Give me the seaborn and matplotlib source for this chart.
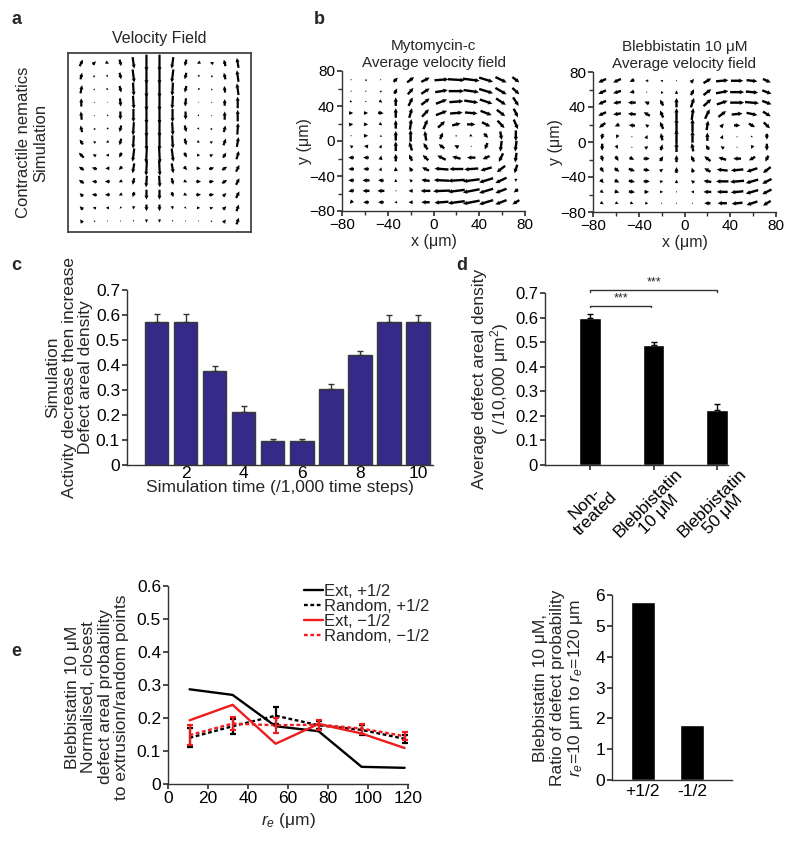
import numpy as np
import matplotlib
matplotlib.use("Agg")
import matplotlib.pyplot as plt
import seaborn as sns
import pandas as pd

# ---------------- data ----------------
# panel a : simulated velocity field (13 x 13 grid), 10 = one grid spacing
a_x = list(range(13))
a_y = list(range(12, -1, -1))
a_u = [
    [2, 2, 2, 1, 1, 0, 0, -1, -1, -2, -2, -1, -1],
    [1, 1, 1, 1, 1, 0, 0, -1, -1, -1, -1, -1, -1],
    [1, .5, 1, 1, .5, 0, 0, -.5, -1, -1, -.5, -.5, -1],
    [0, 0, .5, .5, .5, 0, 0, -.5, -.5, -.5, 0, 0, 0],
    [-.5, 0, -.5, 0, 0, 0, 0, 0, 0, .5, 0, 0, 0],
    [-1, -1, -1, -1, -.5, 0, 0, .5, 1, 1, 1, 1, .5],
    [-2, -1.5, -1.5, -1, -.5, 0, 0, .5, 1, 1.5, 1.5, 1.5, 1],
    [-3, -2, -2, -1.5, -1, -.5, .5, 1, 1.5, 2, 2, 2, 1.5],
    [-3, -3, -2.5, -2, -1, -.5, .5, 1, 2, 2.5, 3, 3, 2],
    [-3, -3, -3, -2, -1, -.5, .5, 1, 2, 3, 3, 3, 2],
    [-2, -3, -3, -2, -1, 0, 0, 1, 2, 3, 3, 2, 2],
    [-2, -2, -2, -1, -.5, 0, 0, .5, 1, 2, 2, 2, 1.5],
    [-1.5, -1, -.5, 0, 0, 0, 0, 0, 0, .5, 1, 1.5, 1.5],
]
a_v = [
    [4, 2, -1, -4, -7, -10, -10, -7, -4, -1, 1, 4, 6],
    [4, 1, -1, -4, -8, -10, -10, -8, -4, -1, 1, 4, 7],
    [5, 1, -1, -4, -8, -10, -10, -8, -4, -1, 1, 4, 7],
    [5, .5, -.5, -5, -8, -10, -10, -8, -5, -.5, .5, 4, 7],
    [5, .3, -1, -5, -8, -10, -10, -8, -5, -1, .3, 5, 7],
    [4, 1, -1, -4, -8, -10, -10, -8, -4, -1, 1, 4, 7],
    [3, 1, -1, -4, -8, -10, -10, -8, -4, -1, 1, 4, 6],
    [3, 1, 0, -3, -8, -10, -10, -8, -3, 0, 1, 3, 5],
    [2, 1, 0, -2, -6, -9, -9, -6, -2, 0, 1, 2, 4],
    [2, .5, 0, -1, -4, -7, -7, -4, -1, 0, .5, 2, 4],
    [2, .5, 0, -1, -3, -6, -6, -3, -1, 0, .5, 2, 4],
    [2, .5, 0, -1, -2, -4, -4, -2, -1, 0, .5, 2, 4],
    [2, .5, 0, 0, -1, -2, -2, -1, 0, 0, .5, 2, 4],
]

# panel b : measured average velocity fields (grid in um)
b_x = [-72, -59, -46, -33, -20, -7, 7, 20, 33, 46, 59, 72]
b_y = [70, 57, 45, 32, 19, 6, -6, -19, -32, -45, -57, -70]
mito_u = [
    [.3, 0, .5, 1.5, 2.5, 3, 5, 6, 6, 5, 4, 2.5],
    [.3, .5, .3, 1, 2, 3, 4.5, 5.5, 5.5, 5, 4, 2.5],
    [.8, .5, 1, 0, 1.5, 3, 4, 5, 5, 4.5, 3.5, 2],
    [1.5, 1.5, 2, 0, 1, 2.5, 4, 4.5, 4.5, 4, 3, 1.5],
    [1.5, 1.5, 1, 0, .5, 1.5, 2.5, 3, 3, 3, 2.5, 1.5],
    [0, 1.5, 0, 0, 0, -.5, 1, .5, 1, 1.5, .5, 0],
    [-1, -1.5, .5, 0, -1, -1.5, -2, -1.5, 0, -1, -.5, -.5],
    [-2, -2, .3, 0, -1, -2, -3, -3, -3, -2.5, -1.5, -.5],
    [-2, -2, .5, 0, -1, -2.5, -5, -5, -5, -4, -3, -1],
    [-2, -2.5, -2, 0, -1, -3, -5.5, -6, -6, -5, -4, 0],
    [-2, -2.5, -2.5, -.5, -1.5, -3.5, -6, -6, -6, -5, -4, -1.5],
    [-1, -2, -2, -1, -1.5, -3, -5, -6, -6, -5, -4, -2.5],
]
mito_v = [
    [0, 1, 0, 2, 2.5, 2, .5, -.5, -1, -2, -2.5, -2.5],
    [0, .3, 1, 2.5, 3, 2.5, 1, 0, -1, -2, -3, -3],
    [-.5, -.3, -1, 4, 4, 3, 2, .5, -1, -2, -3, -4],
    [0, 0, -.3, 4.5, 4.5, 3.5, 2, .5, -.5, -2, -3, -4],
    [.3, 0, -1, 4, 5, 4.5, 3, 1, 0, -2, -3.5, -4.5],
    [.5, 0, 1, 4.5, 5.5, 4.5, 3, .5, -.5, -2, -4, -5],
    [1, .3, 1.5, 4.5, 4, 3, 2, 1, 0, -3, -5, -5],
    [0, 0, 2, 3.5, 3, 2.5, 2, 1, 0, -1.5, -4, -4.5],
    [0, 0, 1.5, 2, 2, 1.5, .5, 0, -.5, -1.5, -3, -4],
    [0, 0, .3, 1.5, 1, .5, .3, -.5, -1, -2, -2.5, -1.5],
    [-.5, 0, 0, 0, 0, 0, -.3, -1, -1.5, -2, -2, -1.5],
    [-1.5, 0, 0, 0, 0, 0, -.5, -1, -1.5, -2, -2, -2],
]
blebb_u = [
    [-2.5, -2.5, -1.5, -1, -.8, 0, 1, 2.5, 4, 4, 3.5, 2.5],
    [-2.5, -2.5, -1.5, -.3, -.5, 0, 1, 2.5, 4, 4.5, 4, 3],
    [-2.5, -2.5, -2.5, -1.5, -1, 0, 1, 2.5, 3.5, 4.5, 4.5, 3],
    [-2.5, -2.5, -2.5, -2, -1, 0, .5, 1.5, 2.5, 3.5, 3.5, 2.5],
    [-2, -1.5, -2, -1, -1, 0, 0, .5, 1, 2, 2, 2],
    [-.3, -.5, 0, .5, -.5, 0, 0, 0, .5, 0, .5, 0],
    [0, .5, 0, 1, .5, 0, -.5, -1, -1, 0, -.5, 0],
    [.5, 1, 1.5, 2, 1, 0, -1, -2, -2.5, -2.5, -2, -1],
    [1, 1.5, 2, 2, 1, 0, -.5, -2, -3.5, -4, -3.5, -2.5],
    [1, 1.5, 2, 2, 1, 0, -1, -2.5, -4, -4.5, -4, -3],
    [1, 1.5, 2, 1.5, 1, 0, -1, -2.5, -3.5, -4, -4, -3],
    [1, 1, 1, 1, 0, 0, 0, -2, -3, -3.5, -3.5, -2.5],
]
blebb_v = [
    [-1.5, -1.5, -1, 0, .3, .5, 1.5, 2, .5, 0, -.5, -1.5],
    [-1.5, -1, -.5, 0, 1, 1.5, 2.5, 2.5, 1, 0, -.5, -1.5],
    [-1.5, -.5, 0, .8, 2.5, 4, 4, 3, 1.5, 0, -.5, -1.5],
    [-1.5, -.5, .3, 1.5, 3, 5, 5, 4, 2.5, .5, -1, -2],
    [-2, -.8, .3, 1, 3, 6, 5.5, 4, 1.5, 0, -1.5, -2.5],
    [-2.5, -1.5, 0, 1.5, 3, 6, 5, 3.5, 1.5, 0, -.5, -2.5],
    [-3, -1.5, 0, 1, 2.5, 4, 3.5, 2, 1, 0, -1.5, -3],
    [-2.5, -2, -1, 0, 2, 3, 2.5, 2, 1, 0, -1.5, -2.5],
    [-2, -1.5, -1, -.3, 1, 2.5, 2, 1.5, .5, -.5, -1.5, -2.5],
    [-1.5, -1, -.5, 0, .5, 1.5, 1, .5, 0, -.5, -1.5, -2],
    [-1, -.5, -.3, 0, 0, .5, 0, 0, 0, -.5, -1.5, -2],
    [-.8, -.5, -.5, 0, 0, .5, 0, 0, 0, -.5, -1.5, -2],
]

# panel c
c_time = [1, 2, 3, 4, 5, 6, 7, 8, 9, 10]
c_density = [0.57, 0.57, 0.377, 0.21, 0.097, 0.097, 0.303, 0.441, 0.57, 0.57]
c_err = [0.035, 0.035, 0.018, 0.025, 0.006, 0.006, 0.022, 0.015, 0.028, 0.028]

# panel d
d_groups = ["Non-\ntreated", "Blebbistatin\n10 \u03bcM", "Blebbistatin\n50 \u03bcM"]
d_density = [0.600, 0.487, 0.222]
d_err = [0.015, 0.013, 0.025]

# panel e (left)
e_r = [10.8, 32.3, 53.8, 75.3, 96.8, 118.3]
e_ext_plus = [0.287, 0.270, 0.175, 0.160, 0.052, 0.049]
e_rand_plus = [0.140, 0.175, 0.207, 0.178, 0.164, 0.137]
e_rand_plus_err = [0.029, 0.022, 0.026, 0.012, 0.015, 0.012]
e_ext_minus = [0.193, 0.240, 0.122, 0.182, 0.153, 0.109]
e_rand_minus = [0.148, 0.183, 0.178, 0.180, 0.168, 0.145]
e_rand_minus_err = [0.030, 0.020, 0.022, 0.015, 0.015, 0.013]

# panel e (right)
e_defects = ["+1/2", "-1/2"]
e_ratio = [5.77, 1.77]

# ---------------- figure ----------------
sns.set_theme(style="ticks")
plt.rcParams["font.family"] = ["Liberation Sans", "DejaVu Sans"]
plt.rcParams["mathtext.fontset"] = "custom"
plt.rcParams["mathtext.rm"] = "Liberation Sans"
plt.rcParams["mathtext.it"] = "Liberation Sans:italic"
plt.rcParams["axes.edgecolor"] = "#333333"
plt.rcParams["axes.linewidth"] = 1.0
plt.rcParams["xtick.color"] = "#333333"
plt.rcParams["ytick.color"] = "#333333"
plt.rcParams["xtick.labelcolor"] = "black"
plt.rcParams["ytick.labelcolor"] = "black"
plt.rcParams["xtick.major.size"] = 3.5
plt.rcParams["ytick.major.size"] = 3.5
plt.rcParams["xtick.major.pad"] = 1.5
plt.rcParams["ytick.major.pad"] = 1.5

W, H = 800, 842
fig = plt.figure(figsize=(W / 100, H / 100), dpi=100)
fig.patch.set_facecolor("white")


def px_axes(x0, y0, x1, y1):
    return fig.add_axes([x0 / W, 1 - y1 / H, (x1 - x0) / W, (y1 - y0) / H])


def letter(x, y, s):
    fig.text(x / W, 1 - y / H, s, fontsize=13, fontweight="bold", ha="left", va="center")


quiver_style = dict(pivot="mid", angles="xy", scale_units="xy", color="black",
                    headwidth=1.9, headlength=1.9, headaxislength=1.7, minlength=0.5)

# ---- panel a ----
ax_a = px_axes(68, 53, 251, 232)
AX, AY = np.meshgrid(a_x, a_y)
ax_a.quiver(AX, AY, np.array(a_u), np.array(a_v), scale=8, width=0.012, **quiver_style)
ax_a.set_xlim(-1.02, 13.02)
ax_a.set_ylim(-0.83, 12.75)
ax_a.set_xticks([])
ax_a.set_yticks([])
for s in ax_a.spines.values():
    s.set_linewidth(1.3)
    s.set_color("#444444")
ax_a.set_title("Velocity Field", fontsize=11.5, pad=7)
ax_a.set_ylabel("Contractile nematics\nSimulation", fontsize=12, linespacing=1.15)
ax_a.yaxis.set_label_coords(-0.11, 0.5)
letter(11, 20, "a")

# ---- panel b ----
major = [-80, -40, 0, 40, 80]
major_lbl = ["\u221280", "\u221240", "0", "40", "80"]
minor = [-60, -20, 20, 60]


def vel_panel(x0, x1, y0, y1, U, V, title, scale):
    ax = px_axes(x0, y0, x1, y1)
    BX, BY = np.meshgrid(b_x, b_y)
    ax.quiver(BX, BY, np.array(U), np.array(V), scale=scale, width=0.013,
              **quiver_style)
    ax.set_xlim(-80, 80)
    ax.set_ylim(-80, 80)
    sns.despine(ax=ax)
    ax.set_xticks(major)
    ax.set_xticklabels(major_lbl, fontsize=11)
    ax.set_yticks(major)
    ax.set_yticklabels(major_lbl, fontsize=11)
    ax.set_xticks(minor, minor=True)
    ax.set_yticks(minor, minor=True)
    ax.tick_params(which="minor", length=3, color="#333333")
    ax.set_xlabel("x (\u03bcm)", fontsize=11.5)
    ax.xaxis.set_label_coords(0.5, -0.165)
    ax.set_ylabel("y (\u03bcm)", fontsize=11.5)
    ax.yaxis.set_label_coords(-0.165, 0.5)
    ax.set_title(title, fontsize=11, pad=3, linespacing=1.3)
    return ax


vel_panel(342, 525, 71, 211, mito_u, mito_v, "Mytomycin-c\nAverage velocity field", 0.41)
vel_panel(593, 776, 72, 212, blebb_u, blebb_v,
          "Blebbistatin 10 \u03bcM\nAverage velocity field", 0.37)
letter(314, 20, "b")

# ---- panel c ----
ax_c = px_axes(127, 290, 433, 465)
df_c = pd.DataFrame({"time": c_time, "density": c_density})
sns.barplot(data=df_c, x="time", y="density", color="#352a87", saturation=1,
            edgecolor="#3a3a3a", linewidth=1.0, width=0.8, ax=ax_c)
ax_c.errorbar(np.arange(len(c_time)), c_density,
              yerr=[np.zeros(len(c_err)), c_err], fmt="none",
              ecolor="#333333", elinewidth=1.0, capsize=2.2, capthick=1.0)
ax_c.set_xlim(-1.03, 9.52)
ax_c.set_ylim(0, 0.7)
sns.despine(ax=ax_c)
ax_c.set_yticks([0, .1, .2, .3, .4, .5, .6, .7])
ax_c.set_yticklabels(["0", "0.1", "0.2", "0.3", "0.4", "0.5", "0.6", "0.7"], fontsize=12.5)
ax_c.set_xticks([1, 3, 5, 7, 9])
ax_c.set_xticklabels(["2", "4", "6", "8", "10"], fontsize=12.5)
ax_c.tick_params(axis="x", length=0, pad=1)
ax_c.set_xlabel("Simulation time (/1,000 time steps)", fontsize=12.5)
ax_c.xaxis.set_label_coords(0.5, -0.085)
ax_c.set_ylabel("Simulation\nActivity decrease then increase\nDefect areal density",
                fontsize=12.5, linespacing=1.1)
ax_c.yaxis.set_label_coords(-0.112, 0.5)
letter(11, 266, "c")

# ---- panel d ----
ax_d = px_axes(545, 293, 728, 465)
df_d = pd.DataFrame({"group": d_groups, "density": d_density})
sns.barplot(data=df_d, x="group", y="density", color="black", saturation=1,
            width=0.34, ax=ax_d)
ax_d.errorbar(np.arange(3), d_density, yerr=[np.zeros(3), d_err], fmt="none",
              ecolor="black", elinewidth=1.0, capsize=2.5, capthick=1.0)
ax_d.set_xlim(-0.71, 2.17)
ax_d.set_ylim(0, 0.7)
sns.despine(ax=ax_d)
ax_d.set_yticks([0, .1, .2, .3, .4, .5, .6, .7])
ax_d.set_yticklabels(["0", "0.1", "0.2", "0.3", "0.4", "0.5", "0.6", "0.7"], fontsize=12)
ax_d.set_xticks([0, 1, 2])
ax_d.set_xticklabels(d_groups, rotation=45, ha="center", va="center",
                     rotation_mode="anchor", fontsize=12.5, multialignment="center",
                     linespacing=1.05)
ax_d.tick_params(axis="x", pad=28)
ax_d.set_xlabel("")
ax_d.set_ylabel("Average defect areal density\n( /10,000 \u03bcm$^2$)", fontsize=12.5,
                linespacing=1.1)
ax_d.yaxis.set_label_coords(-0.185, 0.5)
# significance brackets
for (xa, xb, yb, ys) in [(0, 0.96, 0.649, 0.655), (0, 2, 0.711, 0.717)]:
    ax_d.plot([xa, xa, xb, xb], [yb - 0.008, yb, yb, yb - 0.008], color="#333333",
              lw=1.0, clip_on=False)
    ax_d.text((xa + xb) / 2, ys, "***", ha="center", va="bottom", fontsize=9,
              clip_on=False)
letter(456, 265, "d")

# ---- panel e (left) ----
ax_e = px_axes(168, 586, 408, 784)
dotted = (0, (1.6, 1.1))
sns.lineplot(x=e_r, y=e_ext_plus, color="black", lw=1.7, ax=ax_e, label="Ext, +1/2")
sns.lineplot(x=e_r, y=e_rand_plus, color="black", lw=1.7, linestyle=dotted, ax=ax_e,
             label="Random, +1/2")
sns.lineplot(x=e_r, y=e_ext_minus, color="#ee1c1c", lw=1.7, ax=ax_e, label="Ext, \u22121/2")
sns.lineplot(x=e_r, y=e_rand_minus, color="#ee1c1c", lw=1.7, linestyle=dotted, ax=ax_e,
             label="Random, \u22121/2")
ax_e.errorbar(e_r, e_rand_plus, yerr=e_rand_plus_err, fmt="none", ecolor="black",
              elinewidth=1.6, capsize=2.2, capthick=1.6)
ax_e.errorbar(e_r, e_rand_minus, yerr=e_rand_minus_err, fmt="none", ecolor="#ee1c1c",
              elinewidth=1.6, capsize=2.2, capthick=1.6)
ax_e.set_xlim(0, 120)
ax_e.set_ylim(0, 0.6)
sns.despine(ax=ax_e)
ax_e.set_xticks([0, 20, 40, 60, 80, 100, 120])
ax_e.set_xticklabels(["0", "20", "40", "60", "80", "100", "120"], fontsize=12.5)
ax_e.set_yticks([0, .1, .2, .3, .4, .5, .6])
ax_e.set_yticklabels(["0", "0.1", "0.2", "0.3", "0.4", "0.5", "0.6"], fontsize=12.5)
ax_e.set_xlabel("$r_e$ (\u03bcm)", fontsize=12.5)
ax_e.set_ylabel("Blebbistatin 10 \u03bcM\nNormalised, closest\n"
                "defect areal probability\nto extrusion/random points",
                fontsize=12.5, linespacing=1.1)
ax_e.yaxis.set_label_coords(-0.163, 0.44)
ax_e.legend(loc="upper left", bbox_to_anchor=(0.565, 1.01), frameon=False,
            fontsize=12, handlelength=1.15, handletextpad=0.1, labelspacing=0.0,
            borderpad=0, borderaxespad=0)
letter(11, 651, "e")

# ---- panel e (right) ----
ax_r = px_axes(612, 595, 732, 780)
df_r = pd.DataFrame({"defect": e_defects, "ratio": e_ratio})
sns.barplot(data=df_r, x="defect", y="ratio", color="black", saturation=1,
            width=0.5, ax=ax_r)
ax_r.set_xlim(-0.63, 1.82)
ax_r.set_ylim(0, 6)
sns.despine(ax=ax_r)
ax_r.set_yticks([0, 1, 2, 3, 4, 5, 6])
ax_r.set_yticklabels(["0", "1", "2", "3", "4", "5", "6"], fontsize=12.5)
ax_r.set_xticks([0, 1])
ax_r.set_xticklabels(e_defects, fontsize=12.5)
ax_r.tick_params(axis="x", length=0, pad=3)
ax_r.set_xlabel("")
ax_r.set_ylabel("Blebbistatin 10 \u03bcM,\nRatio of defect probability\n"
                "$r_e$=10 \u03bcm to $r_e$=120 \u03bcm", fontsize=12.5, linespacing=1.1)
ax_r.yaxis.set_label_coords(-0.225, 0.5)

fig.savefig("out.png", dpi=100, facecolor="white")
